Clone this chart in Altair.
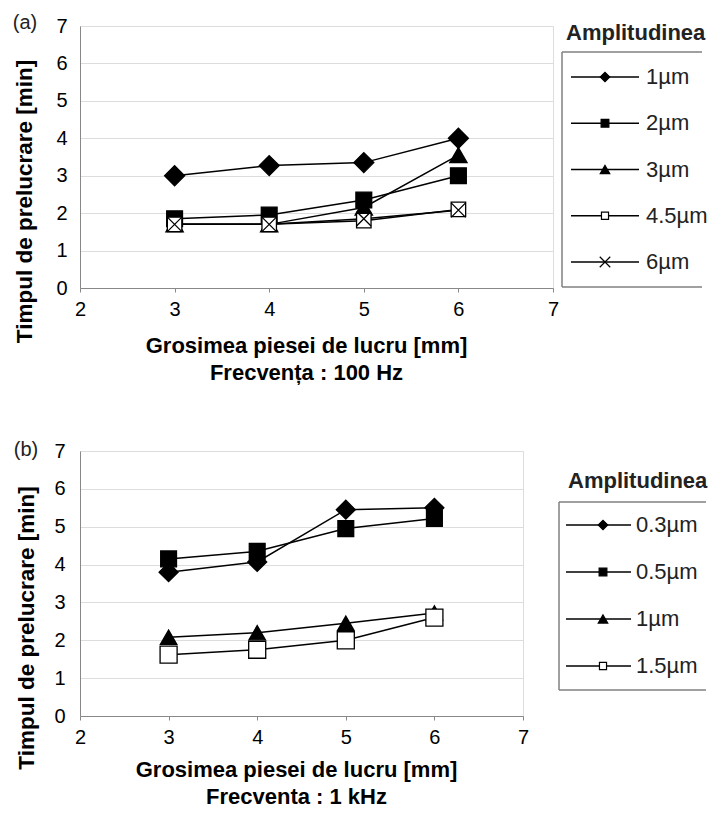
import altair as alt
import pandas as pd

# ---------------- data ----------------
thickness = [3, 4, 5, 6]

a_series = ["1µm", "2µm", "3µm", "4.5µm", "6µm"]
a_1um = [3.0, 3.27, 3.35, 4.0]
a_2um = [1.85, 1.95, 2.35, 3.0]
a_3um = [1.7, 1.7, 2.15, 3.55]
a_45um = [1.7, 1.7, 1.8, 2.1]
a_6um = [1.7, 1.7, 1.85, 2.08]

b_series = ["0.3µm", "0.5µm", "1µm", "1.5µm"]
b_03um = [3.8, 4.07, 5.45, 5.5]
b_05um = [4.15, 4.35, 4.95, 5.22]
b_1um = [2.08, 2.2, 2.45, 2.72]
b_15um = [1.62, 1.75, 2.0, 2.6]

x_ticks = [2, 3, 4, 5, 6, 7]
y_ticks = [0, 1, 2, 3, 4, 5, 6, 7]

y_title = "Timpul de prelucrare [min]"
x_title = "Grosimea piesei de lucru [mm]"
a_freq = "Frecvența : 100 Hz"
b_freq = "Frecventa : 1 kHz"
legend_title = "Amplitudinea"

# ---------------- styles ----------------
FONT = "Liberation Sans"
X_PATH = "M-1,-1L1,1M-1,1L1,-1"
BOX = "#808080"

a_shapes = ["diamond", "square", "triangle-up", "square", X_PATH]
a_fills = ["black", "black", "black", "white", "none"]
a_sizes = [400, 250, 300, 210, 210]
a_lsizes = [90, 60, 90, 50, 110]

b_shapes = ["diamond", "square", "triangle-up", "square"]
b_fills = ["black", "black", "black", "white"]
b_sizes = [360, 250, 270, 290]
b_lsizes = [90, 60, 90, 50]


def long_df(series, arrays):
    rows = []
    for s, arr in zip(series, arrays):
        for t, v in zip(thickness, arr):
            rows.append({"t": t, "v": v, "s": s})
    return pd.DataFrame(rows)


def panel(letter, series, arrays, shapes, fills, sizes, lsizes, width, height,
          freq, ylabpad, ytitlex, ytitledy, xtitlepad, xtitlex, letter_xy, geo):
    df = long_df(series, arrays)
    x = alt.X("t:Q", scale=alt.Scale(domain=[2, 7], nice=False, zero=False),
              axis=alt.Axis(values=x_ticks, format="d", labelOverlap=False, labelFlush=False,
                            grid=False, ticks=True, tickSize=4, tickColor="#888",
                            labelPadding=7, labelFontSize=20, title=[x_title, freq],
                            titlePadding=xtitlepad, titleX=xtitlex, titleLineHeight=27,
                            titleFontSize=22))
    y = alt.Y("v:Q", scale=alt.Scale(domain=[0, 7], nice=False),
              axis=alt.Axis(values=y_ticks, tickCount=8, format="d", labelOverlap=False,
                            labelFlush=False, grid=True, ticks=False, labelPadding=ylabpad,
                            labelFontSize=20, title=y_title, titleFontSize=22.5,
                            titleX=ytitlex, titleY=height / 2 + ytitledy,
                            titleBaseline="alphabetic"))
    lines = alt.Chart(df).mark_line(color="black", strokeWidth=1.5).encode(
        x=x, y=y, detail="s:N")
    layers = [lines]
    for s, sh, fi, sz in zip(series, shapes, fills, sizes):
        layers.append(
            alt.Chart(df).transform_filter(alt.datum.s == s).mark_point(
                shape=sh, fill=fi, stroke="black", strokeWidth=1.3, size=sz,
                opacity=1, fillOpacity=1).encode(x=x, y=y))
    one = pd.DataFrame({"k": [letter]})
    layers.append(alt.Chart(one).mark_text(fontSize=20, font=FONT, color="#222",
                                           baseline="middle", align="center").encode(
        text="k:N", x=alt.value(letter_xy[0]), y=alt.value(letter_xy[1])))
    data_group = alt.layer(*layers)

    # ---- legend (drawn manually: line + marker + label) ----
    bx0, by0, by1, bx1, tx, ty, iy0, iy1, lx0, lx1, mx, labx = geo
    ldf = pd.DataFrame({"s": series})
    ly = alt.Y("s:N", scale=alt.Scale(type="point", domain=series, range=[iy0, iy1], padding=0),
               axis=None)
    box = pd.DataFrame({"k": [0]})
    leg = [
        alt.Chart(box).mark_rule(color=BOX, strokeWidth=1.5).encode(
            x=alt.value(bx0), x2=alt.value(bx1), y=alt.value(by0)),
        alt.Chart(box).mark_rule(color=BOX, strokeWidth=1.5).encode(
            x=alt.value(bx0), x2=alt.value(bx1), y=alt.value(by1)),
        alt.Chart(box).mark_rule(color=BOX, strokeWidth=1.5).encode(
            x=alt.value(bx0), y=alt.value(by0), y2=alt.value(by1)),
        alt.Chart(pd.DataFrame({"k": [legend_title]})).mark_text(
            fontSize=22, fontWeight="bold", font=FONT, color="#222", align="left",
            baseline="middle").encode(text="k:N", x=alt.value(tx), y=alt.value(ty)),
        alt.Chart(ldf).mark_rule(color="black", strokeWidth=1.5).encode(
            x=alt.value(lx0), x2=alt.value(lx1), y=ly),
        alt.Chart(ldf).mark_text(fontSize=22, font=FONT, color="#222", align="left",
                                 baseline="middle").encode(
            text="s:N", x=alt.value(labx), y=ly),
    ]
    for s, sh, fi, sz in zip(series, shapes, fills, lsizes):
        leg.append(alt.Chart(ldf).transform_filter(alt.datum.s == s).mark_point(
            shape=sh, fill=fi, stroke="black", strokeWidth=1.2, size=sz,
            opacity=1, fillOpacity=1).encode(x=alt.value(mx), y=ly))
    legend_group = alt.layer(*leg)

    return alt.layer(data_group, legend_group).resolve_scale(y="independent").properties(
        width=width, height=height)


# geometry of legends relative to each plot's top-left corner
a_geo = (482, 26, 261, 622, 486, 7, 51, 236, 491, 559, 525, 566)
b_geo = (479, 51, 239, 626, 488, 30, 74, 215, 486, 551, 523, 556)

pa = panel("(a)", a_series, [a_1um, a_2um, a_3um, a_45um, a_6um], a_shapes, a_fills,
           a_sizes, a_lsizes, 473, 262, a_freq, 13, -49, 44, 16, 226, (-55, -3), a_geo)
pb = panel("(b)", b_series, [b_03um, b_05um, b_1um, b_15um], b_shapes, b_fills,
           b_sizes, b_lsizes, 443, 265, b_freq, 15, -47, 44, 12, 216, (-54, -1), b_geo)

chart = alt.concat(pa, pb, columns=1, spacing=55, align="none").properties(
    padding={"left": 4, "top": 4, "right": 0, "bottom": 0}
).configure_view(stroke="#888", strokeWidth=1.5).configure_axis(
    domain=False, labelFont=FONT, titleFont=FONT, labelColor="#333", titleColor="#222",
    titleFontWeight="bold", gridColor="#cfcfcf", gridWidth=1
).configure(background="white")

chart.save("out.html", embed_options={"renderer": "svg", "actions": False})
